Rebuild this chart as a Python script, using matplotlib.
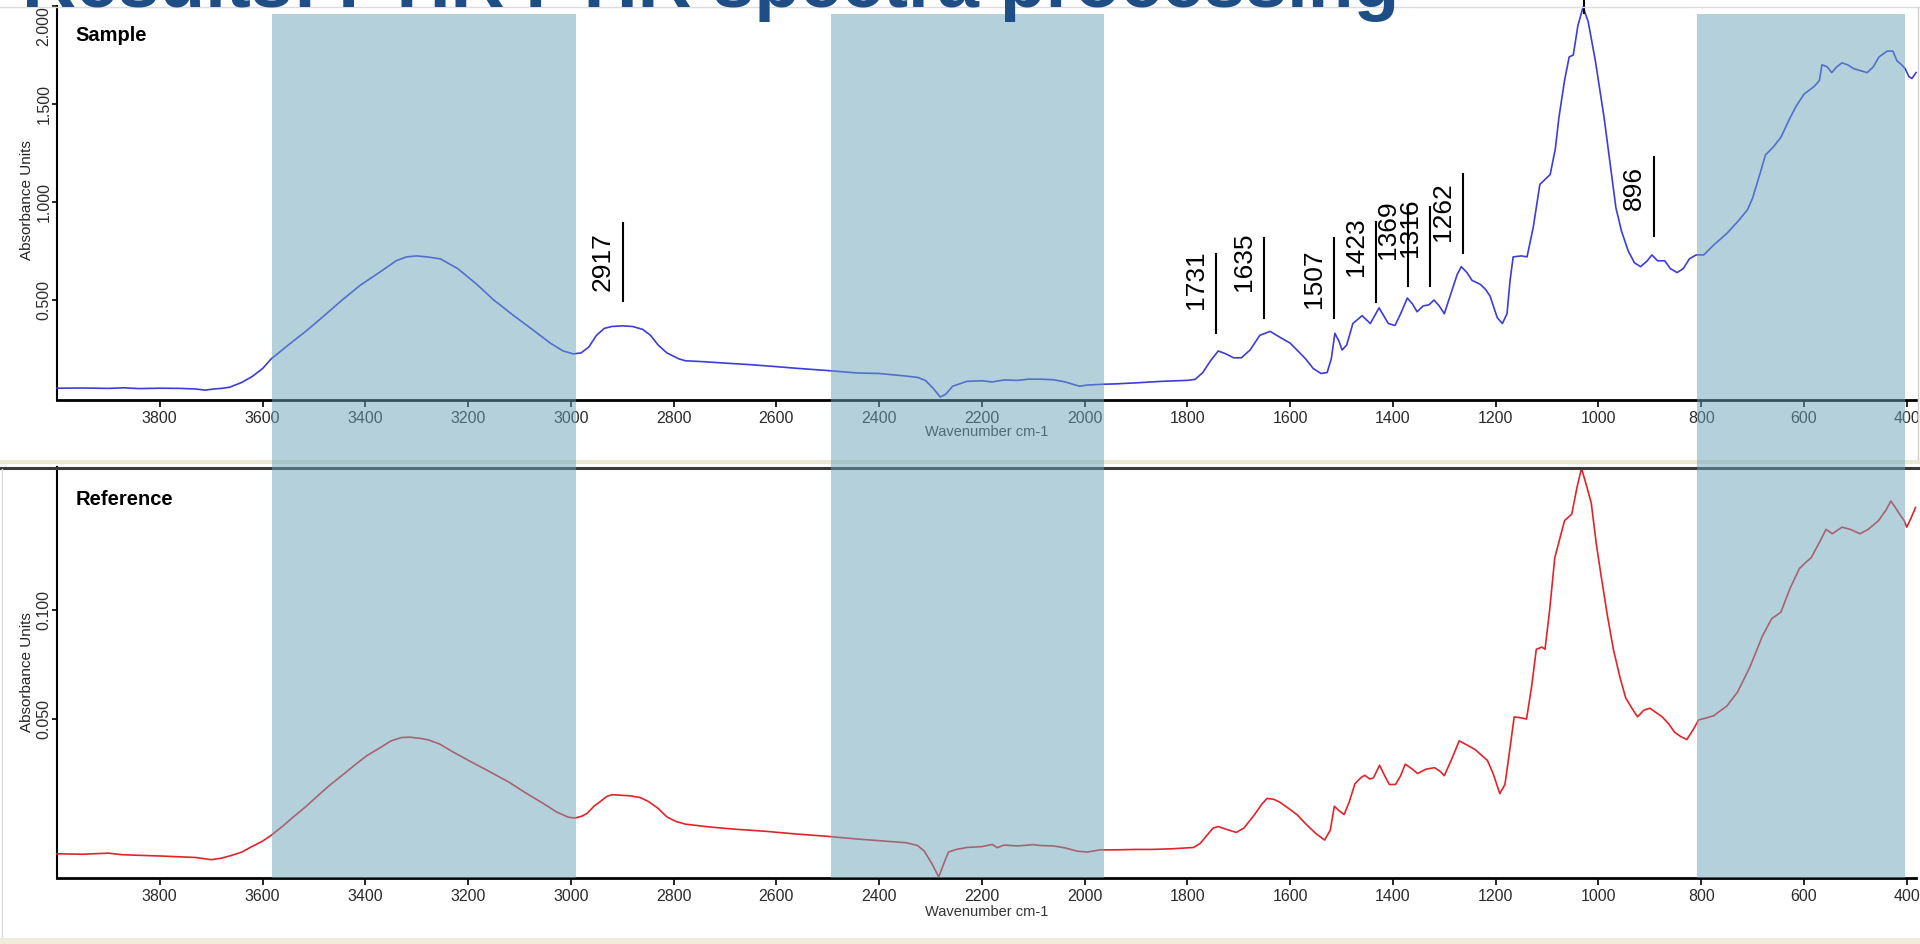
import matplotlib
matplotlib.use("Agg")
import matplotlib.pyplot as plt
from matplotlib.patches import Rectangle
from matplotlib.lines import Line2D
from matplotlib.transforms import blended_transform_factory, offset_copy

plt.rcParams['font.family'] = ['Liberation Sans', 'DejaVu Sans']

# ---------------- data ----------------
title_text = "Results: FTIR FTIR spectra processing"
panel_names = ["Sample", "Reference"]
y_label = "Absorbance Units"
x_label = "Wavenumber cm-1"

x_ticks = [3800, 3600, 3400, 3200, 3000, 2800, 2600, 2400, 2200, 2000,
           1800, 1600, 1400, 1200, 1000, 800, 600, 400]
sample_yticks = [0.5, 1.0, 1.5, 2.0]
sample_yticklabels = ["0.500", "1.000", "1.500", "2.000"]
ref_yticks = [0.05, 0.10]
ref_yticklabels = ["0.050", "0.100"]

# excluded (shaded) spectral windows, cm-1
shaded_windows = [(3582, 2990), (2493, 1962), (808, 403)]

sample_wn = [4000, 3950, 3900, 3870, 3840, 3800, 3760, 3730, 3712, 3695, 3680, 3664,
             3640, 3620, 3600, 3583, 3550, 3516, 3480, 3445, 3410, 3373, 3340, 3320,
             3300, 3280, 3254, 3220, 3183, 3150, 3111, 3075, 3040, 3015, 2995, 2980,
             2965, 2950, 2935, 2920, 2900, 2880, 2860, 2845, 2830, 2813, 2790, 2777,
             2740, 2700, 2650, 2600, 2563, 2500, 2444, 2400, 2348, 2325, 2310, 2295,
             2281, 2270, 2257, 2240, 2229, 2200, 2180, 2157, 2130, 2110, 2086, 2060,
             2038, 2020, 2010, 1995, 1967, 1940, 1895, 1850, 1800, 1785, 1770, 1755,
             1740, 1725, 1710, 1695, 1678, 1659, 1639, 1620, 1600, 1587, 1570, 1555,
             1540, 1528, 1520, 1513, 1505, 1499, 1490, 1478, 1460, 1444, 1427, 1418,
             1409, 1396, 1385, 1372, 1362, 1353, 1341, 1330, 1320, 1310, 1300, 1285,
             1275, 1267, 1256, 1246, 1230, 1220, 1211, 1197, 1187, 1178, 1172, 1166,
             1150, 1139, 1127, 1114, 1094, 1084, 1077, 1066, 1057, 1049, 1040, 1030,
             1020, 1006, 989, 975, 966, 955, 942, 930, 918, 905, 896, 885,
             871, 860, 847, 835, 823, 810, 795, 776, 750, 729, 710, 700,
             685, 675, 660, 645, 627, 615, 600, 580, 570, 565, 555, 546,
             536, 526, 515, 503, 490, 477, 465, 454, 438, 427, 419, 410,
             403, 396, 390, 382]
sample_abs = [0.050, 0.051, 0.049, 0.052, 0.048, 0.050, 0.049, 0.046, 0.040, 0.046, 0.049, 0.055,
              0.080, 0.110, 0.150, 0.200, 0.270, 0.340, 0.420, 0.500, 0.575, 0.640, 0.700, 0.720,
              0.725, 0.720, 0.710, 0.660, 0.580, 0.500, 0.420, 0.350, 0.280, 0.240, 0.225, 0.230,
              0.260, 0.320, 0.355, 0.365, 0.368, 0.365, 0.350, 0.320, 0.270, 0.230, 0.200, 0.190,
              0.185, 0.178, 0.170, 0.160, 0.152, 0.140, 0.128, 0.125, 0.112, 0.105, 0.090, 0.050,
              0.005, 0.020, 0.060, 0.075, 0.085, 0.088, 0.082, 0.092, 0.090, 0.096, 0.096, 0.093,
              0.082, 0.068, 0.060, 0.066, 0.070, 0.072, 0.078, 0.085, 0.090, 0.095, 0.130, 0.190,
              0.240, 0.225, 0.205, 0.205, 0.245, 0.320, 0.340, 0.310, 0.280, 0.245, 0.200, 0.150,
              0.125, 0.130, 0.200, 0.330, 0.290, 0.245, 0.270, 0.380, 0.420, 0.380, 0.460, 0.420,
              0.380, 0.370, 0.430, 0.510, 0.480, 0.440, 0.470, 0.475, 0.500, 0.470, 0.430, 0.550,
              0.630, 0.670, 0.640, 0.600, 0.580, 0.555, 0.520, 0.410, 0.380, 0.430, 0.600, 0.720,
              0.725, 0.720, 0.870, 1.090, 1.140, 1.270, 1.430, 1.620, 1.740, 1.750, 1.900, 1.995,
              1.920, 1.720, 1.430, 1.150, 0.970, 0.850, 0.750, 0.690, 0.670, 0.700, 0.730, 0.700,
              0.700, 0.660, 0.640, 0.660, 0.710, 0.730, 0.730, 0.780, 0.840, 0.900, 0.960, 1.020,
              1.150, 1.240, 1.280, 1.330, 1.430, 1.490, 1.550, 1.590, 1.620, 1.700, 1.690, 1.660,
              1.690, 1.710, 1.700, 1.680, 1.670, 1.660, 1.690, 1.740, 1.770, 1.770, 1.720, 1.700,
              1.680, 1.640, 1.630, 1.660]

ref_wn = [4000, 3950, 3900, 3874, 3840, 3800, 3760, 3730, 3700, 3680, 3664, 3640,
          3624, 3600, 3583, 3560, 3540, 3515, 3493, 3470, 3445, 3420, 3397, 3370,
          3350, 3330, 3314, 3295, 3278, 3255, 3230, 3195, 3159, 3120, 3087, 3055,
          3028, 3005, 2992, 2978, 2968, 2955, 2944, 2930, 2920, 2900, 2885, 2865,
          2849, 2830, 2813, 2795, 2777, 2730, 2682, 2620, 2563, 2500, 2444, 2400,
          2348, 2325, 2312, 2298, 2284, 2272, 2265, 2250, 2229, 2200, 2180, 2170,
          2157, 2130, 2100, 2086, 2060, 2040, 2014, 1995, 1970, 1943, 1900, 1871,
          1830, 1788, 1775, 1764, 1750, 1740, 1725, 1705, 1690, 1669, 1655, 1645,
          1632, 1621, 1600, 1586, 1570, 1550, 1533, 1522, 1514, 1505, 1495, 1485,
          1474, 1462, 1455, 1445, 1438, 1426, 1416, 1407, 1395, 1385, 1376, 1362,
          1352, 1336, 1319, 1308, 1300, 1285, 1271, 1255, 1240, 1216, 1205, 1192,
          1182, 1176, 1164, 1150, 1140, 1130, 1121, 1110, 1104, 1095, 1085, 1066,
          1052, 1042, 1033, 1022, 1014, 1004, 995, 983, 971, 958, 947, 935,
          924, 912, 900, 888, 876, 864, 852, 840, 828, 816, 805, 790,
          776, 750, 729, 705, 681, 663, 645, 627, 609, 596, 586, 570,
          557, 545, 526, 510, 491, 475, 455, 440, 431, 422, 414, 405,
          400, 392, 383]
ref_abs = [-0.0118, -0.0120, -0.0115, -0.0122, -0.0125, -0.0128, -0.0132, -0.0135, -0.0145, -0.0138, -0.0128, -0.0110,
           -0.0089, -0.0060, -0.0033, 0.0010, 0.0051, 0.0100, 0.0147, 0.0195, 0.0242, 0.0290, 0.0332, 0.0370,
           0.0400, 0.0415, 0.0417, 0.0412, 0.0405, 0.0385, 0.0350, 0.0305, 0.0260, 0.0210, 0.0160, 0.0115,
           0.0074, 0.0050, 0.0046, 0.0055, 0.0068, 0.0100, 0.0119, 0.0145, 0.0153, 0.0150, 0.0148, 0.0140,
           0.0122, 0.0090, 0.0051, 0.0030, 0.0018, 0.0005, -0.0005, -0.0015, -0.0027, -0.0038, -0.0050, -0.0058,
           -0.0067, -0.0080, -0.0106, -0.0160, -0.0224, -0.0150, -0.0110, -0.0098, -0.0089, -0.0085, -0.0075, -0.0090,
           -0.0078, -0.0082, -0.0076, -0.0080, -0.0082, -0.0090, -0.0106, -0.0110, -0.0100, -0.0100, -0.0098, -0.0098,
           -0.0095, -0.0089, -0.0070, -0.0039, 0.0000, 0.0007, -0.0005, -0.0020, 0.0000, 0.0063, 0.0110, 0.0136,
           0.0132, 0.0120, 0.0085, 0.0060, 0.0020, -0.0025, -0.0055, -0.0010, 0.0100, 0.0080, 0.0062, 0.0120,
           0.0203, 0.0232, 0.0242, 0.0225, 0.0230, 0.0288, 0.0240, 0.0200, 0.0200, 0.0240, 0.0293, 0.0270,
           0.0250, 0.0270, 0.0277, 0.0260, 0.0240, 0.0320, 0.0400, 0.0380, 0.0360, 0.0310, 0.0250, 0.0158,
           0.0200, 0.0300, 0.0510, 0.0505, 0.0500, 0.0650, 0.0820, 0.0830, 0.0820, 0.1000, 0.1240, 0.1410,
           0.1440, 0.1560, 0.1650, 0.1560, 0.1490, 0.1300, 0.1160, 0.0980, 0.0820, 0.0690, 0.0597, 0.0550,
           0.0510, 0.0540, 0.0550, 0.0530, 0.0510, 0.0480, 0.0440, 0.0420, 0.0406, 0.0450, 0.0496, 0.0505,
           0.0515, 0.0560, 0.0625, 0.0740, 0.0880, 0.0960, 0.0990, 0.1100, 0.1190, 0.1220, 0.1240, 0.1310,
           0.1370, 0.1350, 0.1380, 0.1370, 0.1350, 0.1370, 0.1410, 0.1460, 0.1500, 0.1470, 0.1440, 0.1410,
           0.1380, 0.1420, 0.1470]

# peak annotations on the sample spectrum
peak_labels = ["2917", "1731", "1635", "1507", "1423", "1369", "1316", "1262", "896"]
peak_line_wn = [2899, 1744, 1651, 1515, 1433, 1371, 1328, 1264, 892]
peak_line_top = [0.893, 0.735, 0.816, 0.816, 0.898, 0.974, 0.974, 1.143, 1.230]
peak_line_bottom = [0.495, 0.332, 0.408, 0.408, 0.490, 0.571, 0.571, 0.740, 0.827]
peak_text_y = [0.694, 0.602, 0.696, 0.610, 0.773, 0.857, 0.867, 0.952, 1.071]
top_peak_label = "1030"
top_peak_wn = 1028

# ---------------- figure ----------------
W, H = 1920, 944
fig = plt.figure(figsize=(W / 100, H / 100), dpi=100)
fig.patch.set_facecolor("white")


def fx(p):
    return p / W


def fy(p):
    return 1 - p / H


L, R = 57, 1916
ax1 = fig.add_axes([fx(L), fy(400), (R - L) / W, (400 - 6) / H])
ax2 = fig.add_axes([fx(L), fy(878), (R - L) / W, (878 - 467) / H])

tick_color = "#2b2b2b"
for ax in (ax1, ax2):
    ax.set_xlim(4000, 382)
    ax.patch.set_alpha(0)
    for s in ("top", "right"):
        ax.spines[s].set_visible(False)
    ax.spines["left"].set_linewidth(1.5)
    ax.spines["bottom"].set_linewidth(2.0)
    ax.set_xticks(x_ticks)
    ax.set_xticklabels([str(t) for t in x_ticks])
    ax.tick_params(axis="x", direction="out", length=5, width=1.2, pad=3,
                   labelsize=11.5, labelcolor=tick_color)
    ax.tick_params(axis="y", direction="out", length=3.6, width=1.2, pad=0.5,
                   labelsize=11.5, labelcolor=tick_color)

ax1.set_ylim(-0.0102, 2.0)
ax2.set_ylim(-0.0229, 0.1656)
ax1.set_yticks(sample_yticks)
ax1.set_yticklabels(sample_yticklabels)
ax2.set_yticks(ref_yticks)
ax2.set_yticklabels(ref_yticklabels)
for ax in (ax1, ax2):
    for lab in ax.get_yticklabels():
        lab.set_rotation(90)
        lab.set_va("center")
ax1.get_yticklabels()[-1].set_va("top")

ax1.plot(sample_wn, sample_abs, color="#3c3cdc", lw=1.2, clip_on=False, zorder=3)
ax2.plot(ref_wn, ref_abs, color="#e3232a", lw=1.2, clip_on=False, zorder=3)

# axis titles
ax1.text(0.5, -32 / 394, x_label, transform=ax1.transAxes, ha="center", va="center",
         fontsize=10.5, color="#333333")
ax2.text(0.5, -34 / 411, x_label, transform=ax2.transAxes, ha="center", va="center",
         fontsize=10.5, color="#333333")
fig.text(fx(27), fy(200), y_label, rotation=90, ha="center", va="center",
         fontsize=11, color="#222222")
fig.text(fx(27), fy(672), y_label, rotation=90, ha="center", va="center",
         fontsize=11, color="#222222")

fig.text(fx(75), fy(41), panel_names[0], ha="left", va="baseline",
         fontsize=14.5, fontweight="bold", color="black")
fig.text(fx(76), fy(505), panel_names[1], ha="left", va="baseline",
         fontsize=14.5, fontweight="bold", color="black")

# peak annotations
txt_tr = offset_copy(ax1.transData, fig=fig, x=-20, y=0, units="dots")
for lab, wn, y0, y1, ty in zip(peak_labels, peak_line_wn, peak_line_top,
                               peak_line_bottom, peak_text_y):
    ax1.plot([wn, wn], [y1, y0], color="black", lw=1.5, zorder=4)
    ax1.text(wn, ty, lab, transform=txt_tr, rotation=90, ha="center", va="center",
             fontsize=19, color="black", zorder=4)
ax1.plot([top_peak_wn, top_peak_wn], [1.964, 2.10], color="black", lw=1.5,
         zorder=4, clip_on=False)
ax1.text(top_peak_wn, 2.036, top_peak_label, transform=txt_tr, rotation=90,
         ha="center", va="bottom", fontsize=19, color="black", zorder=4, clip_on=False)

# window frame lines (screenshot chrome)
def hline(yp, color, lw, x0=0, x1=W, z=5):
    fig.add_artist(Line2D([fx(x0), fx(x1)], [fy(yp), fy(yp)], color=color, lw=lw,
                          transform=fig.transFigure, zorder=z))


def vline(xp, y0, y1, color, lw, z=5):
    fig.add_artist(Line2D([fx(xp), fx(xp)], [fy(y0), fy(y1)], color=color, lw=lw,
                          transform=fig.transFigure, zorder=z))


hline(7, "#dcdcdc", 1.0)
vline(1918, 7, 460, "#d0d0d0", 1.0)
hline(461.5, "#ebe8d6", 3.0)
hline(467.5, "#3a3a3a", 2.2)
vline(2, 469, 938, "#dcdcdc", 1.0)
fig.add_artist(Rectangle((0, 0), 1, fy(938), transform=fig.transFigure,
                         facecolor="#efecdc", edgecolor="none", zorder=5))

# shaded windows spanning both panels
bt = blended_transform_factory(ax1.transData, fig.transFigure)
for a, b in shaded_windows:
    x0, x1 = min(a, b), max(a, b)
    fig.add_artist(Rectangle((x0, fy(878)), x1 - x0, (878 - 14) / H, transform=bt,
                             facecolor="#6ba3b9", alpha=0.5, edgecolor="none",
                             zorder=10))

# slide title (mostly cut off at the top edge)
title = fig.text(fx(22), fy(7), title_text, ha="left", va="baseline",
                 fontsize=40, fontweight="bold", color="#1f4e87", zorder=12)
fig.canvas.draw()
bb = title.get_window_extent(renderer=fig.canvas.get_renderer())
title.set_fontsize(40 * (1397 - 22) / bb.width)

fig.savefig("out.png", dpi=100)
